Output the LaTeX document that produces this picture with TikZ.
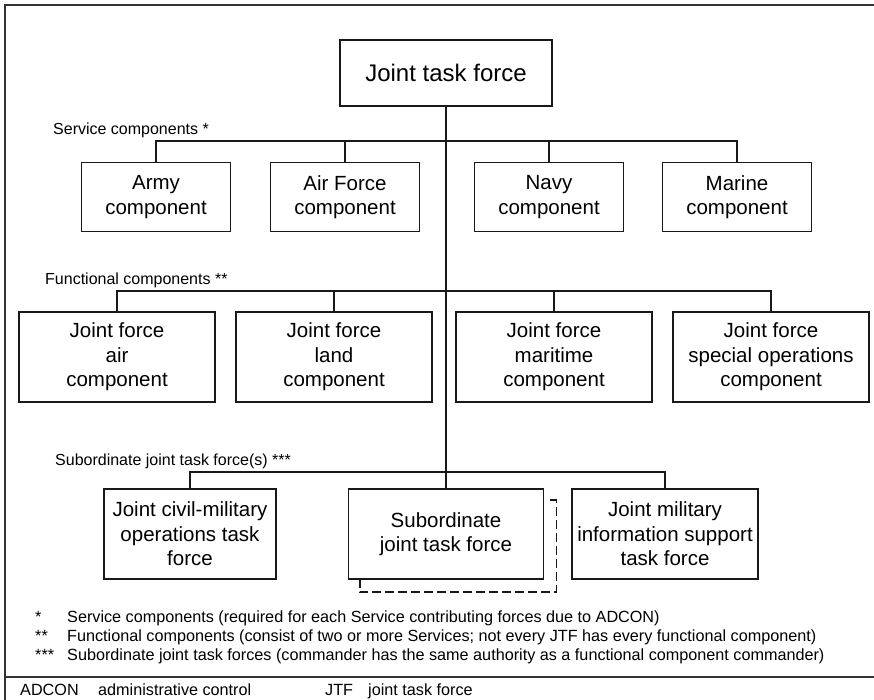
\documentclass[tikz,border=0pt]{standalone}
\usepackage{fontspec}
\setmainfont{Liberation Sans}
\usetikzlibrary{calc}
\begin{document}
\begin{tikzpicture}[x=1pt,y=-1pt,
  unitbox/.style={draw=black!90, line width=1.9pt, fill=white, align=center,
    inner sep=0pt, font=\fontsize{20.5}{24.5}\selectfont},
  link/.style={draw=black!90, line width=1.6pt},
  tier/.style={anchor=base west, inner sep=0pt, font=\fontsize{16}{18}\selectfont},
  note/.style={anchor=base west, inner sep=0pt, font=\fontsize{16.2}{18}\selectfont},
  frameline/.style={draw=black!80, line width=2.6pt},
  shadowline/.style={draw=black!90, line width=1.9pt, dash pattern=on 9pt off 4pt}]

\useasboundingbox (0,0) rectangle (874,700);

% outer frame and legend separator
\draw[frameline] (5,700) -- (5,5) -- (880,5);
\draw[frameline] (5,677) -- (880,677);

% top node
\node[unitbox, minimum width=212pt, minimum height=66pt] (jtf) at (446,73)
  {\fontsize{24}{28}\selectfont Joint task force};

% service components
\node[tier] (lsvc) at (53,135) {Service components *};
\node[unitbox, minimum width=149pt, minimum height=69pt] (army)   at (156,197) {Army\\component};
\node[unitbox, minimum width=149pt, minimum height=69pt] (af)     at (345,197) {Air Force\\component};
\node[unitbox, minimum width=149pt, minimum height=69pt] (navy)   at (549,197) {Navy\\component};
\node[unitbox, minimum width=149pt, minimum height=69pt] (marine) at (737,197) {Marine\\component};

% functional components
\node[tier] (lfn) at (45,284) {Functional components **};
\node[unitbox, minimum width=196pt, minimum height=90pt] (air)  at (117,357) {Joint force\\air\\component};
\node[unitbox, minimum width=196pt, minimum height=90pt] (land) at (334,357) {Joint force\\land\\component};
\node[unitbox, minimum width=196pt, minimum height=90pt] (mar)  at (554,357) {Joint force\\maritime\\component};
\node[unitbox, minimum width=196pt, minimum height=90pt] (sof)  at (771,357) {Joint force\\special operations\\component};

% subordinate joint task forces
\node[tier] (lsub) at (55,465) {Subordinate joint task force(s) ***};
\node[unitbox, minimum width=172pt, minimum height=90pt] (cmo) at (190,534) {Joint civil-military\\operations task\\force};
\node[unitbox, minimum width=195pt, minimum height=90pt] (sjtf) at (446,534) {Subordinate\\joint task force};
\node[unitbox, minimum width=186pt, minimum height=90pt] (miso) at (665,534) {Joint military\\information support\\task force};

% dashed outline behind the subordinate JTF
\draw[shadowline] ($(sjtf.north east)+(6,12)$) -- ($(sjtf.north east)+(12,12)$)
  -- ($(sjtf.south east)+(12,12)$) -- ($(sjtf.south west)+(12,12)$)
  -- ($(sjtf.south west)+(12,0)$);

% bus lines
\coordinate (bsvc) at (446,141);
\coordinate (bfn)  at (446,291);
\coordinate (bsub) at (446,472);

\draw[link] (jtf.south) -- (sjtf.north);
\draw[link] (army.north) |- (bsvc) -| (marine.north);
\draw[link] (af.north) -- (af.north |- bsvc);
\draw[link] (navy.north) -- (navy.north |- bsvc);
\draw[link] (air.north) |- (bfn) -| (sof.north);
\draw[link] (land.north) -- (land.north |- bfn);
\draw[link] (mar.north) -- (mar.north |- bfn);
\draw[link] (cmo.north) |- (bsub) -| (miso.north);

% footnotes
\node[note] (m1) at (35,622) {*};
\node[note] (m2) at (35,641) {**};
\node[note] (m3) at (35,660) {***};
\node[note] (n1) at (67,622) {Service components (required for each Service contributing forces due to ADCON)};
\node[note] (n2) at (67,641) {Functional components (consist of two or more Services; not every JTF has every functional component)};
\node[note] (n3) at (67,660) {Subordinate joint task forces (commander has the same authority as a functional component commander)};

% acronyms
\node[note] (a1) at (20,695) {ADCON};
\node[note] (a2) at (98,695) {administrative control};
\node[note] (a3) at (325,695) {JTF};
\node[note] (a4) at (368,695) {joint task force};
\end{tikzpicture}
\end{document}
